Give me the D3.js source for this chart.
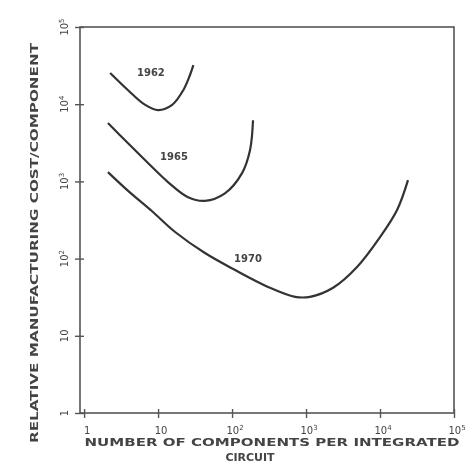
<!DOCTYPE html>
<html>
<head>
<meta charset="utf-8">
<script src="https://cdn.jsdelivr.net/npm/d3@7"></script>
<style>
  body { margin: 0; background: #fff; }
  svg { display: block; filter: blur(0.4px); }
  text { font-family: "DejaVu Sans", sans-serif; fill: #444; }
</style>
</head>
<body>
<svg></svg>
<script>
// tick values and labels (exponents)
var xTicks = [1, 1e1, 1e2, 1e3, 1e4, 1e5];
var xTickExp = ["", "", "2", "3", "4", "5"];
var xTickBase = ["1", "10", "10", "10", "10", "10"];
var yTicks = [1, 1e1, 1e2, 1e3, 1e4, 1e5];
var yTickExp = ["", "", "2", "3", "4", "5"];
var yTickBase = ["1", "10", "10", "10", "10", "10"];

// curves: components per circuit, relative cost
var years = ["1962", "1965", "1970"];
var comp1962 = [2.25, 3.9, 6.7, 10, 15.5, 22, 27, 30];
var cost1962 = [25400, 15300, 9800, 8400, 9800, 15300, 23900, 32000];
var comp1965 = [2.1, 3.9, 7.3, 13.6, 25, 43, 80, 137, 175, 192];
var cost1965 = [5700, 3140, 1730, 980, 630, 560, 700, 1290, 2550, 6200];
var comp1970 = [2.1, 3.9, 8.3, 17, 43, 110, 306, 710, 1130, 2320, 4890, 10000, 17000, 23900];
var cost1970 = [1320, 760, 410, 221, 118, 71, 43, 32, 32, 42, 78, 190, 427, 1040];
// label anchor positions (data units)
var labelComp = [8, 16.4, 164];
var labelCost = [23000, 1900, 90];

var screen = {width: 470, height: 470};

var svg = d3.select("svg")
    .attr("width", screen.width)
    .attr("height", screen.height);

var x = d3.scaleLog().domain([0.88, 1e5]).range([80, 454]);
var y = d3.scaleLog().domain([1, 1e5]).range([413, 27]);

// frame
svg.append("rect")
    .attr("x", x.range()[0])
    .attr("y", y.range()[1])
    .attr("width", x.range()[1] - x.range()[0])
    .attr("height", y.range()[0] - y.range()[1])
    .attr("fill", "none")
    .attr("stroke", "#555")
    .attr("stroke-width", 1.6);

// y axis ticks
var yAxis = svg.append("g")
    .attr("transform", "translate(" + x.range()[0] + ",0)")
    .call(d3.axisLeft(y).tickValues(yTicks).tickSize(5).tickFormat(""));
yAxis.select(".domain").remove();
yAxis.selectAll(".tick line").attr("x1", 4).attr("stroke", "#555").attr("stroke-width", 1.4);

// x axis ticks
var xAxis = svg.append("g")
    .attr("transform", "translate(0," + y.range()[0] + ")")
    .call(d3.axisBottom(x).tickValues(xTicks).tickSize(5).tickFormat(""));
xAxis.select(".domain").remove();
xAxis.selectAll(".tick line").attr("y1", -4).attr("stroke", "#555").attr("stroke-width", 1.4);

// y tick labels, rotated like the original
yTicks.forEach(function(v, i) {
    var t = svg.append("text")
        .attr("transform", "translate(68," + y(v) + ") rotate(-90)")
        .attr("text-anchor", "middle")
        .attr("font-size", 10);
    t.append("tspan").text(yTickBase[i]);
    if (yTickExp[i]) {
        t.append("tspan").attr("dy", -4).attr("font-size", 7).text(yTickExp[i]);
    }
});

// x tick labels
xTicks.forEach(function(v, i) {
    var t = svg.append("text")
        .attr("x", x(v) + 3)
        .attr("y", 434)
        .attr("text-anchor", "middle")
        .attr("font-size", 10);
    t.append("tspan").text(xTickBase[i]);
    if (xTickExp[i]) {
        t.append("tspan").attr("dy", -4).attr("font-size", 7).text(xTickExp[i]);
    }
});

// axis titles
svg.append("text")
    .attr("transform", "translate(38,243) rotate(-90)")
    .attr("text-anchor", "middle")
    .attr("font-size", 11)
    .attr("font-weight", "bold")
    .attr("textLength", 400)
    .attr("lengthAdjust", "spacingAndGlyphs")
    .text("RELATIVE MANUFACTURING COST/COMPONENT");

svg.append("text")
    .attr("x", 272)
    .attr("y", 446)
    .attr("text-anchor", "middle")
    .attr("font-size", 11)
    .attr("font-weight", "bold")
    .attr("textLength", 375)
    .attr("lengthAdjust", "spacingAndGlyphs")
    .text("NUMBER OF COMPONENTS PER INTEGRATED");

svg.append("text")
    .attr("x", 250)
    .attr("y", 461)
    .attr("text-anchor", "middle")
    .attr("font-size", 11)
    .attr("font-weight", "bold")
    .text("CIRCUIT");

// curves
var series = [
    comp1962.map(function(c, i) { return {x: c, y: cost1962[i]}; }),
    comp1965.map(function(c, i) { return {x: c, y: cost1965[i]}; }),
    comp1970.map(function(c, i) { return {x: c, y: cost1970[i]}; })
];

var line = d3.line()
    .x(function(d) { return x(d.x); })
    .y(function(d) { return y(d.y); })
    .curve(d3.curveCatmullRom.alpha(0.5));

svg.selectAll("path.curve")
    .data(series)
    .enter()
    .append("path")
    .attr("class", "curve")
    .attr("d", line)
    .attr("fill", "none")
    .attr("stroke", "#333")
    .attr("stroke-width", 2.2);

svg.selectAll("text.year")
    .data(years)
    .enter()
    .append("text")
    .attr("class", "year")
    .attr("x", function(d, i) { return x(labelComp[i]); })
    .attr("y", function(d, i) { return y(labelCost[i]); })
    .attr("text-anchor", "middle")
    .attr("font-size", 10)
    .attr("font-weight", "bold")
    .text(function(d) { return d; });
</script>
</body>
</html>
